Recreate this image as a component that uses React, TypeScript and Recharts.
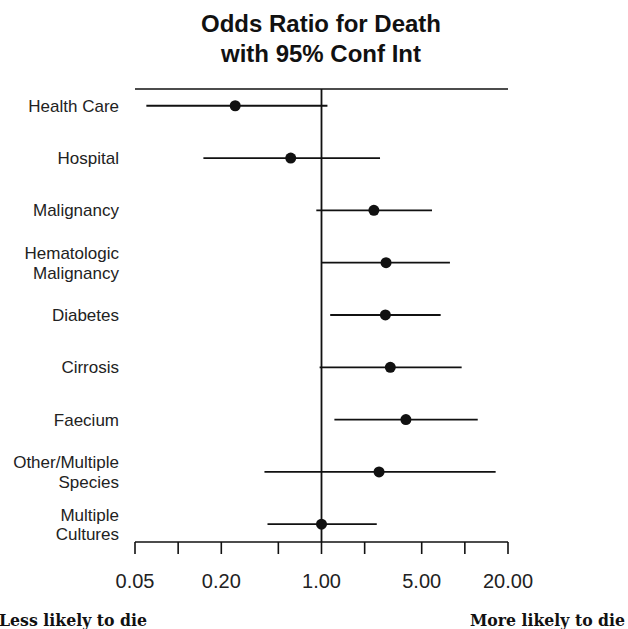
import { ScatterChart, Scatter, XAxis, YAxis, ErrorBar, ReferenceLine } from 'recharts'

const categories = [
  'Health Care',
  'Hospital',
  'Malignancy',
  'Hematologic\nMalignancy',
  'Diabetes',
  'Cirrosis',
  'Faecium',
  'Other/Multiple\nSpecies',
  'Multiple\nCultures',
]
const oddsRatio = [0.25, 0.61, 2.32, 2.82, 2.79, 3.02, 3.88, 2.52, 1.0]
const lowerCI = [0.06, 0.15, 0.92, 1.0, 1.15, 0.97, 1.23, 0.4, 0.42]
const upperCI = [1.1, 2.56, 5.9, 7.87, 6.78, 9.5, 12.3, 16.4, 2.43]
const xTicks = [0.05, 0.1, 0.2, 0.5, 1, 2, 5, 10, 20]
const xTickLabels = ['0.05', '', '0.20', '', '1.00', '', '5.00', '', '20.00']

const INK = '#111'
const TEXT = '#222'
const SANS = '"Liberation Sans", Arial, Helvetica, sans-serif'
const SERIF = '"DejaVu Serif", "Liberation Serif", serif'
const ROW_TOP = -0.32
const ROW_BOTTOM = 8.34

const rows = categories.map((name, i) => ({
  row: i,
  name,
  or: oddsRatio[i],
  err: [oddsRatio[i] - lowerCI[i], upperCI[i] - oddsRatio[i]],
}))

// ─── ticks ──────────────────────────────────────────────────────────────────
function OddsTick({ x, y, payload }: any) {
  const idx = xTicks.indexOf(payload.value)
  const label = idx >= 0 ? xTickLabels[idx] : ''
  if (!label) return null
  return (
    <text x={x} y={y + 32} textAnchor="middle" fontSize={20} fill={TEXT} fontFamily={SANS}>
      {label}
    </text>
  )
}

function CategoryTick({ x, y, payload }: any) {
  const lines = (categories[payload.value] || '').split('\n')
  const lh = 19.5
  const start = y - ((lines.length - 1) * lh) / 2
  return (
    <text x={x} y={start} textAnchor="end" fontSize={17} fill={TEXT} fontFamily={SANS}>
      {lines.map((l, i) => (
        <tspan key={i} x={x} y={start + i * lh} dy="0.36em">{l}</tspan>
      ))}
    </text>
  )
}

const Dot = (props: any) => <circle cx={props.cx} cy={props.cy} r={5.5} fill={INK} />

export default function App() {
  return (
    <div style={{ position: 'absolute', left: 0, top: 0, width: 628, height: 629, background: '#fff' }}>
      <ScatterChart width={628} height={629} margin={{ top: 89, right: 120, bottom: 0, left: 0 }}>
        <XAxis
          dataKey="or"
          type="number"
          scale="log"
          domain={[0.05, 20]}
          allowDataOverflow
          ticks={xTicks}
          interval={0}
          height={87}
          tickSize={12}
          stroke={INK}
          strokeWidth={1.6}
          tick={<OddsTick />}
        />
        <YAxis
          dataKey="row"
          type="number"
          domain={[ROW_TOP, ROW_BOTTOM]}
          reversed
          allowDataOverflow
          ticks={categories.map((_, i) => i)}
          interval={0}
          width={135}
          tickSize={0}
          tickMargin={16}
          tickLine={false}
          axisLine={false}
          tick={<CategoryTick />}
        />
        <ReferenceLine y={ROW_TOP} stroke={INK} strokeWidth={1.6} ifOverflow="visible" />
        <ReferenceLine x={1} stroke={INK} strokeWidth={1.8} />
        <Scatter data={rows} shape={Dot} isAnimationActive={false}>
          <ErrorBar dataKey="err" direction="x" width={0} stroke={INK} strokeWidth={1.8} />
        </Scatter>
      </ScatterChart>
      <svg width={628} height={629} style={{ position: 'absolute', left: 0, top: 0, pointerEvents: 'none' }}>
        <text x={321} y={32} textAnchor="middle" fontSize={24} fontWeight="bold" fill={INK} fontFamily={SANS}>
          Odds Ratio for Death
        </text>
        <text x={321} y={61.5} textAnchor="middle" fontSize={24} fontWeight="bold" fill={INK} fontFamily={SANS}>
          with 95% Conf Int
        </text>
        <text x={-1} y={626} fontSize={17.5} fontWeight="bold" fill={INK} fontFamily={SERIF}
          textLength={148} lengthAdjust="spacingAndGlyphs">
          Less likely to die
        </text>
        <text x={470} y={626} fontSize={17.5} fontWeight="bold" fill={INK} fontFamily={SERIF}
          textLength={155} lengthAdjust="spacingAndGlyphs">
          More likely to die
        </text>
      </svg>
    </div>
  )
}
